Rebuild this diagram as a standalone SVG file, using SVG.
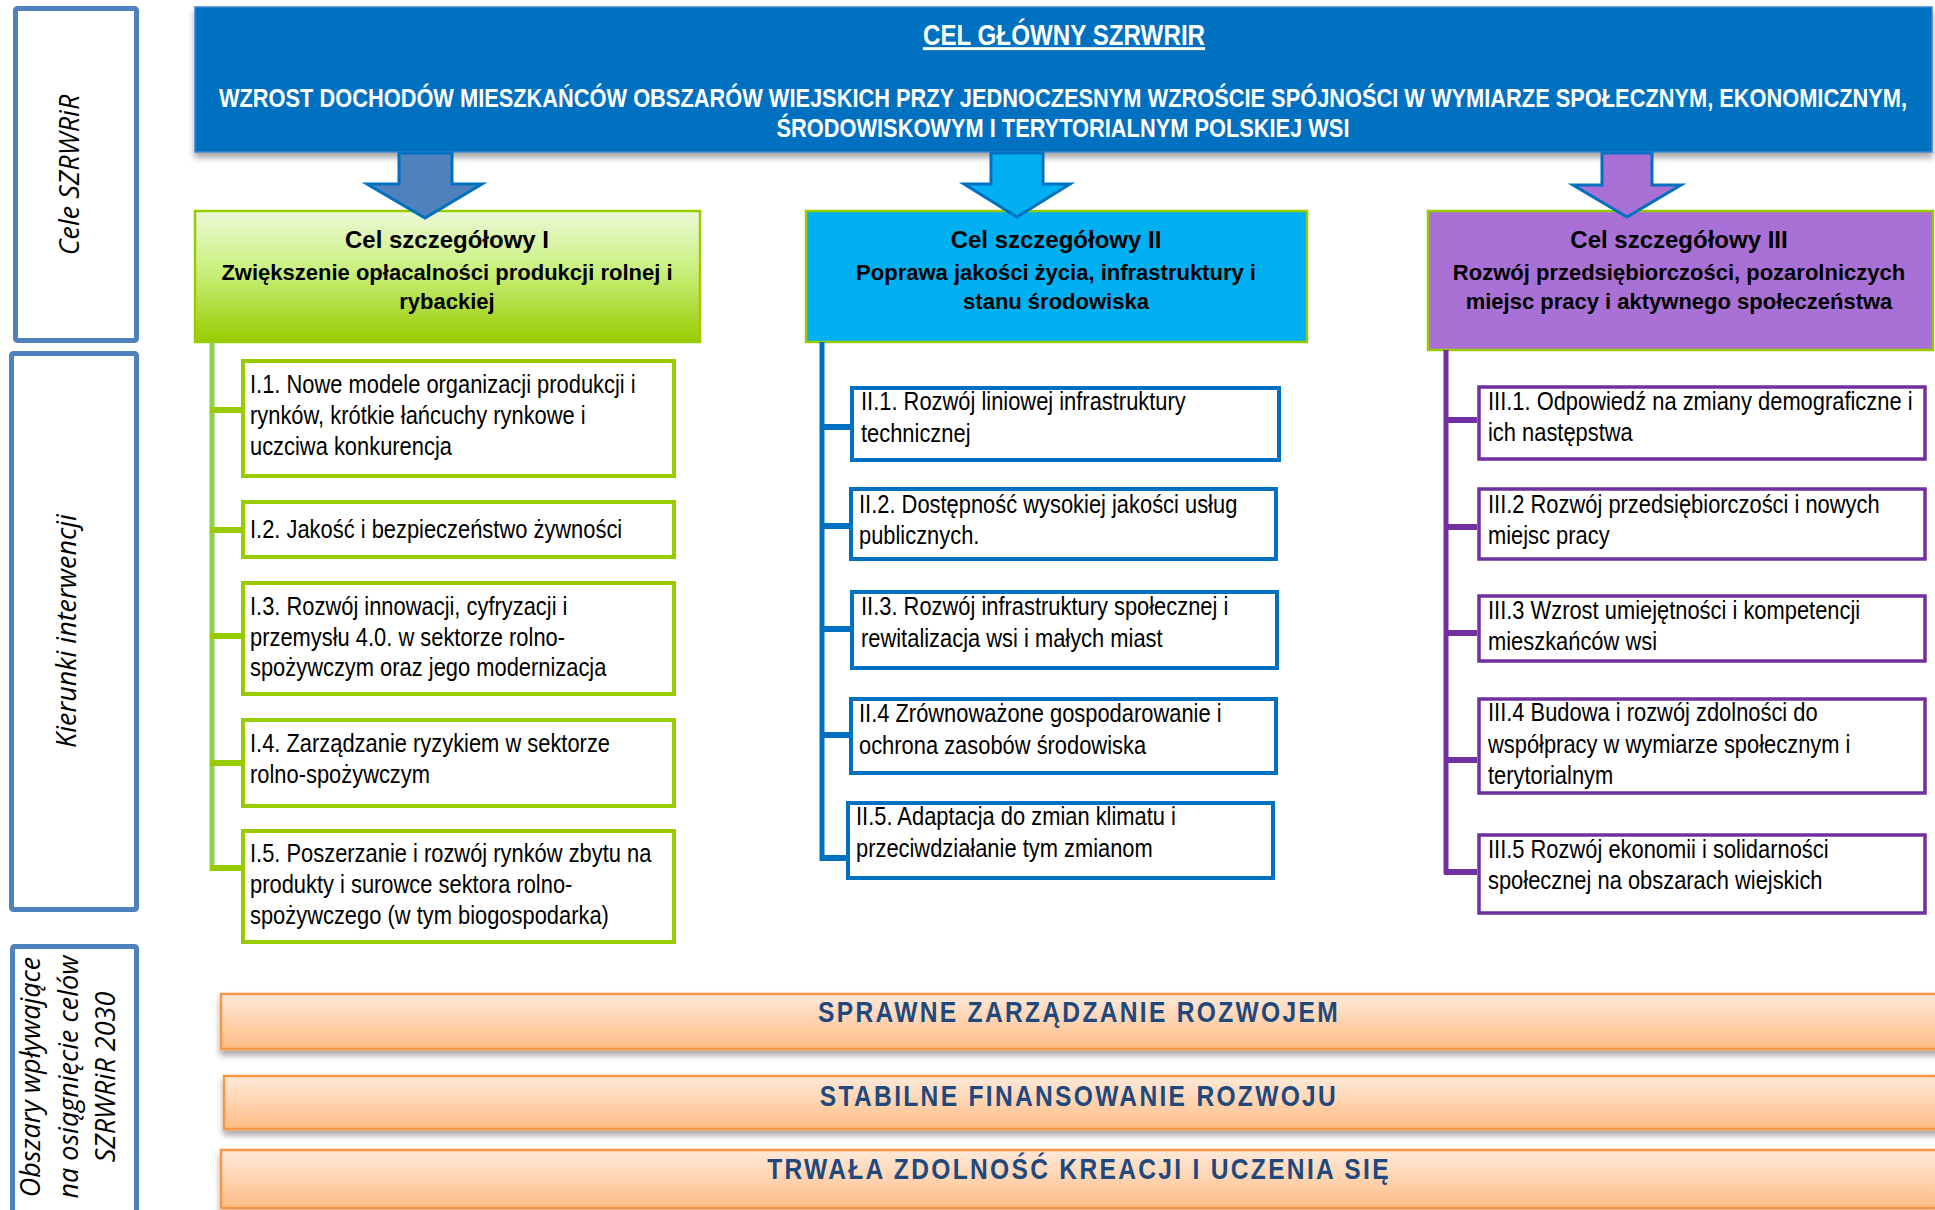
<svg xmlns="http://www.w3.org/2000/svg" width="1935" height="1210" viewBox="0 0 1935 1210">
<defs>
<linearGradient id="gGreen" x1="0" y1="0" x2="0" y2="1">
<stop offset="0" stop-color="#EBF9D8"/>
<stop offset="0.45" stop-color="#C9F07E"/>
<stop offset="1" stop-color="#99CC00"/>
</linearGradient>
<linearGradient id="gOrange" x1="0" y1="0" x2="0" y2="1">
<stop offset="0" stop-color="#FFE9DA"/>
<stop offset="1" stop-color="#FFBD84"/>
</linearGradient>
<filter id="sh" x="-5%" y="-30%" width="110%" height="180%">
<feDropShadow dx="0" dy="5" stdDeviation="3" flood-color="#000" flood-opacity="0.35"/>
</filter>
</defs>
<style>
.lbl{fill:#fff;stroke:#4F81BD;stroke-width:5}
.lt{font-family:"Open Sans","DejaVu Sans",sans-serif;font-style:italic;font-size:27px;fill:#000;text-anchor:middle}
.hd{font-family:"Liberation Sans",Arial,sans-serif;font-weight:bold;fill:#fff;text-anchor:middle}
.ct{font-family:"Liberation Sans",Arial,sans-serif;font-weight:bold;fill:#000;text-anchor:middle}
.it{font-family:"Liberation Sans",Arial,sans-serif;font-size:26.7px;fill:#000}
.bI{fill:#fff;stroke:#99CC00;stroke-width:4}
.bII{fill:#fff;stroke:#0070C0;stroke-width:4}
.bIII{fill:#fff;stroke:#7030A0;stroke-width:3.5}
.bar{fill:url(#gOrange);stroke:#F79646;stroke-width:2.5}
.bt{font-family:"Liberation Sans",Arial,sans-serif;font-weight:bold;font-size:30px;letter-spacing:2.8px;fill:#1F497D;text-anchor:middle}
.arr{stroke:#0070C0;stroke-width:3;stroke-linejoin:miter}
</style>
<rect width="1935" height="1210" fill="#fff"/>

<g id="label-cele">
<rect class="lbl" x="15.5" y="8.5" width="121" height="332" rx="2"/>
<text class="lt" transform="translate(79,175) rotate(-90)">Cele SZRWRiR</text>
</g>
<g id="label-kierunki">
<rect class="lbl" x="11.5" y="353.5" width="125" height="556" rx="2"/>
<text class="lt" transform="translate(76,631) rotate(-90)">Kierunki interwencji</text>
</g>
<g id="label-obszary">
<rect class="lbl" x="12.5" y="946.5" width="124" height="300" rx="2"/>
<text class="lt" transform="translate(40,1077) rotate(-90)">Obszary wpływające</text>
<text class="lt" transform="translate(78,1077) rotate(-90)">na osiągnięcie celów</text>
<text class="lt" transform="translate(115,1077) rotate(-90)">SZRWRiR 2030</text>
</g>

<g id="cel-glowny">
<rect x="195" y="7" width="1737" height="145" fill="#0070C0" stroke="#3F86CC" stroke-width="1.5" filter="url(#sh)"/>
<text class="hd" x="1064" y="45" font-size="29.5" text-decoration="underline" transform="matrix(0.82 0 0 1 191.52 0)">CEL GŁÓWNY SZRWRIR</text>
<g transform="matrix(0.82 0 0 1 191.34 0)">
<text class="hd" x="1063" y="107" font-size="26.6">WZROST DOCHODÓW MIESZKAŃCÓW OBSZARÓW WIEJSKICH PRZY JEDNOCZESNYM WZROŚCIE SPÓJNOŚCI W WYMIARZE SPOŁECZNYM, EKONOMICZNYM,</text>
<text class="hd" x="1063" y="137" font-size="26.6">ŚRODOWISKOWYM I TERYTORIALNYM POLSKIEJ WSI</text>
</g>
</g>

<g id="cel-1">
<rect x="195" y="211" width="505" height="131" fill="url(#gGreen)" stroke="#99CC00" stroke-width="2.5"/>
<text class="ct" x="447" y="248" font-size="24">Cel szczegółowy I</text>
<text class="ct" x="447" y="280" font-size="22">Zwiększenie opłacalności produkcji rolnej i</text>
<text class="ct" x="447" y="309" font-size="22">rybackiej</text>
</g>
<g id="cel-2">
<rect x="806" y="211" width="501" height="131" fill="#00B0F0" stroke="#99CC00" stroke-width="2.5"/>
<text class="ct" x="1056" y="248" font-size="24">Cel szczegółowy II</text>
<text class="ct" x="1056" y="280" font-size="22">Poprawa jakości życia, infrastruktury i</text>
<text class="ct" x="1056" y="309" font-size="22">stanu środowiska</text>
</g>
<g id="cel-3">
<rect x="1428" y="211" width="505" height="139" fill="#A970D5" stroke="#99CC00" stroke-width="2.5"/>
<text class="ct" x="1679" y="248" font-size="24">Cel szczegółowy III</text>
<text class="ct" x="1679" y="280" font-size="22">Rozwój przedsiębiorczości, pozarolniczych</text>
<text class="ct" x="1679" y="309" font-size="22">miejsc pracy i aktywnego społeczeństwa</text>
</g>

<g id="k-I1"><rect class="bI" x="243" y="361" width="431" height="115"/>
<g transform="matrix(0.82 0 0 1 45 0)">
<text class="it" x="250" y="393">I.1. Nowe modele organizacji produkcji i</text>
<text class="it" x="250" y="424">rynków, krótkie łańcuchy rynkowe i</text>
<text class="it" x="250" y="455">uczciwa konkurencja</text></g></g>
<g id="k-I2"><rect class="bI" x="243" y="502" width="431" height="55"/>
<g transform="matrix(0.82 0 0 1 45 0)">
<text class="it" x="250" y="538">I.2. Jakość i bezpieczeństwo żywności</text></g></g>
<g id="k-I3"><rect class="bI" x="243" y="583" width="431" height="111"/>
<g transform="matrix(0.82 0 0 1 45 0)">
<text class="it" x="250" y="615">I.3. Rozwój innowacji, cyfryzacji i</text>
<text class="it" x="250" y="646">przemysłu 4.0. w sektorze rolno-</text>
<text class="it" x="250" y="676">spożywczym oraz jego modernizacja</text></g></g>
<g id="k-I4"><rect class="bI" x="243" y="720" width="431" height="86"/>
<g transform="matrix(0.82 0 0 1 45 0)">
<text class="it" x="250" y="752">I.4. Zarządzanie ryzykiem w sektorze</text>
<text class="it" x="250" y="783">rolno-spożywczym</text></g></g>
<g id="k-I5"><rect class="bI" x="243" y="831" width="431" height="111"/>
<g transform="matrix(0.82 0 0 1 45 0)">
<text class="it" x="250" y="862">I.5. Poszerzanie i rozwój rynków zbytu na</text>
<text class="it" x="250" y="893">produkty i surowce sektora rolno-</text>
<text class="it" x="250" y="924">spożywczego (w tym biogospodarka)</text></g></g>

<g id="k-II1"><rect class="bII" x="852" y="388" width="427" height="72"/>
<g transform="matrix(0.82 0 0 1 154.98 0)">
<text class="it" x="861" y="410">II.1. Rozwój liniowej infrastruktury</text>
<text class="it" x="861" y="442">technicznej</text></g></g>
<g id="k-II2"><rect class="bII" x="851" y="489" width="425" height="70"/>
<g transform="matrix(0.82 0 0 1 154.62 0)">
<text class="it" x="859" y="513">II.2. Dostępność wysokiej jakości usług</text>
<text class="it" x="859" y="544">publicznych.</text></g></g>
<g id="k-II3"><rect class="bII" x="852" y="592" width="425" height="76"/>
<g transform="matrix(0.82 0 0 1 154.98 0)">
<text class="it" x="861" y="615">II.3. Rozwój infrastruktury społecznej i</text>
<text class="it" x="861" y="647">rewitalizacja wsi i małych miast</text></g></g>
<g id="k-II4"><rect class="bII" x="851" y="699" width="425" height="74"/>
<g transform="matrix(0.82 0 0 1 154.62 0)">
<text class="it" x="859" y="722">II.4 Zrównoważone gospodarowanie i</text>
<text class="it" x="859" y="754">ochrona zasobów środowiska</text></g></g>
<g id="k-II5"><rect class="bII" x="848" y="803" width="425" height="75"/>
<g transform="matrix(0.82 0 0 1 154.08 0)">
<text class="it" x="856" y="825">II.5. Adaptacja do zmian klimatu i</text>
<text class="it" x="856" y="857">przeciwdziałanie tym zmianom</text></g></g>

<g id="k-III1"><rect class="bIII" x="1479" y="387" width="446" height="72"/>
<g transform="matrix(0.82 0 0 1 267.84 0)">
<text class="it" x="1488" y="410">III.1. Odpowiedź na zmiany demograficzne i</text>
<text class="it" x="1488" y="441">ich następstwa</text></g></g>
<g id="k-III2"><rect class="bIII" x="1479" y="489" width="446" height="70"/>
<g transform="matrix(0.82 0 0 1 267.84 0)">
<text class="it" x="1488" y="513">III.2 Rozwój przedsiębiorczości i nowych</text>
<text class="it" x="1488" y="544">miejsc pracy</text></g></g>
<g id="k-III3"><rect class="bIII" x="1479" y="596" width="446" height="65"/>
<g transform="matrix(0.82 0 0 1 267.84 0)">
<text class="it" x="1488" y="619">III.3 Wzrost umiejętności i kompetencji</text>
<text class="it" x="1488" y="650">mieszkańców wsi</text></g></g>
<g id="k-III4"><rect class="bIII" x="1479" y="699" width="446" height="94"/>
<g transform="matrix(0.82 0 0 1 267.84 0)">
<text class="it" x="1488" y="721">III.4 Budowa i rozwój zdolności do</text>
<text class="it" x="1488" y="753">współpracy w wymiarze społecznym i</text>
<text class="it" x="1488" y="784">terytorialnym</text></g></g>
<g id="k-III5"><rect class="bIII" x="1479" y="835" width="446" height="78"/>
<g transform="matrix(0.82 0 0 1 267.84 0)">
<text class="it" x="1488" y="858">III.5 Rozwój ekonomii i solidarności</text>
<text class="it" x="1488" y="889">społecznej na obszarach wiejskich</text></g></g>

<g id="obszar-1"><rect class="bar" x="221" y="994" width="1720" height="55" filter="url(#sh)"/>
<text class="bt" x="1079" y="1022" transform="matrix(0.82 0 0 1 194.22 0)">SPRAWNE ZARZĄDZANIE ROZWOJEM</text></g>
<g id="obszar-2"><rect class="bar" x="224" y="1076" width="1717" height="53" filter="url(#sh)"/>
<text class="bt" x="1079" y="1106" transform="matrix(0.82 0 0 1 194.22 0)">STABILNE FINANSOWANIE ROZWOJU</text></g>
<g id="obszar-3"><rect class="bar" x="221" y="1150" width="1720" height="58" filter="url(#sh)"/>
<text class="bt" x="1079" y="1179" transform="matrix(0.82 0 0 1 194.22 0)">TRWAŁA ZDOLNOŚĆ KREACJI I UCZENIA SIĘ</text></g>

<g id="connectors">
<polygon class="arr" fill="#4F81BD" points="399,153 452,153 452,184 482,184 425,218 367,184 399,184"/>
<polygon class="arr" fill="#00B0F0" points="991,153 1043,153 1043,184 1070,184 1017,217 964,184 991,184"/>
<polygon class="arr" fill="#A970D5" points="1602,153 1652,153 1652,185 1681,185 1627,217 1573,185 1602,185"/>
<g fill="none">
<line x1="212" y1="342" x2="212" y2="871" stroke="#92D050" stroke-width="5"/>
<path d="M210 410H241M210 530H241M210 636H241M210 763H241M210 868H241" stroke="#99CC00" stroke-width="6"/>
<line x1="822" y1="342" x2="822" y2="861" stroke="#0070C0" stroke-width="5"/>
<path d="M820 427H850M820 526H849M820 629H850M820 735H849M820 858H846" stroke="#0070C0" stroke-width="6"/>
<line x1="1446" y1="350" x2="1446" y2="874" stroke="#7030A0" stroke-width="5"/>
<path d="M1444 420H1477M1444 527H1477M1444 633H1477M1444 760H1477M1444 872H1477" stroke="#7030A0" stroke-width="6"/>
</g>
</g>
</svg>
